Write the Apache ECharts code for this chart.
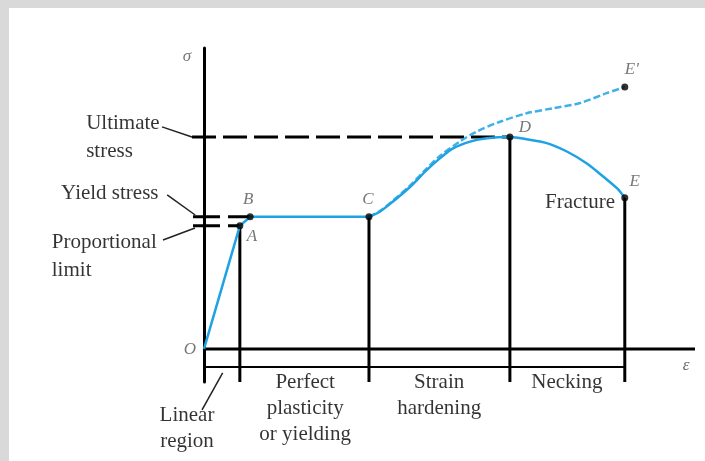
<!DOCTYPE html>
<html>
<head>
<meta charset="utf-8">
<script src="https://cdn.jsdelivr.net/npm/echarts@6/dist/echarts.min.js"></script>
<style>
  html, body { margin: 0; padding: 0; background: #d9d9d9; }
  #chart { width: 705px; height: 461px; }
</style>
</head>
<body>
<div id="chart"></div>
<script>
// elastic + yielding part: O, A, B, C
const linearStrain = [0, 7.3, 9.4, 33.6];
const linearStress = [0, 40.9, 43.9, 43.9];

// engineering curve: C -> D (ultimate) -> E (fracture)
const curveStrain = [33.6, 35.8, 38.5, 42.0, 45.4, 48.1, 50.8, 54.2, 57.6, 62.3, 65.7, 69.8, 73.9, 77.9, 81.3, 84.1, 85.7];
const curveStress = [43.9, 45.6, 49.0, 53.9, 59.5, 63.4, 66.7, 68.9, 70.0, 70.4, 69.7, 68.4, 65.6, 61.7, 57.3, 53.4, 50.2];

// true stress curve: C -> E'
const trueStrain = [33.6, 35.8, 38.5, 42.0, 45.4, 48.1, 52.1, 55.5, 60.3, 65.7, 71.1, 76.6, 82.0, 85.7];
const trueStress = [43.9, 45.8, 49.3, 54.3, 60.0, 64.2, 68.9, 72.2, 75.5, 78.3, 80.0, 81.7, 85.0, 87.0];

// named points
const pointNames = ["A", "B", "C", "D", "E", "E'"];
const pointStrain = [7.3, 9.4, 33.6, 62.3, 85.7, 85.7];
const pointStress = [40.9, 43.9, 43.9, 70.4, 50.2, 87.0];

const regionNames = ["Linear\nregion", "Perfect\nplasticity\nor yielding", "Strain\nhardening", "Necking"];

const BLUE = "#1ea2e4";
const SERIF = "'Liberation Serif', 'DejaVu Serif', serif";
const X_MIN = -40, X_MAX = 100;
const Y_MIN = -11, Y_MAX = 100;
const DIM_Y = -6;

const zip = (xs, ys) => xs.map((x, i) => [x, ys[i]]);
const pt = (name) => {
  const i = pointNames.indexOf(name);
  return [pointStrain[i], pointStress[i]];
};

function seg(data, opts) {
  return Object.assign({
    type: "line",
    data: data,
    symbol: "none",
    clip: false,
    silent: true,
    animation: false,
    lineStyle: { color: "#000", width: 3 },
    z: 3,
  }, opts);
}

const A = pt("A"), B = pt("B"), C = pt("C"), D = pt("D"), E = pt("E");

// label offsets for the point letters (px)
const letterOffset = {
  "A": [12, 11], "B": [-2, -17], "C": [-1, -17],
  "D": [15, -10], "E": [10, -16], "E'": [7, -18],
};

function textItem(value, text, opts) {
  return {
    value: value,
    label: Object.assign({
      show: true,
      formatter: text,
      position: [0, 0],
      align: "center",
      verticalAlign: "middle",
      fontFamily: SERIF,
      fontSize: 21,
      color: "#000",
    }, opts),
  };
}

const texts = [
  textItem([-3.46, 97.0], "σ", { fontStyle: "italic", fontSize: 17, color: "#555" }),
  textItem([-2.85, -0.3], "O", { fontStyle: "italic", fontSize: 17, color: "#555" }),
  textItem([98.2, -5.6], "ε", { fontStyle: "italic", fontSize: 17, color: "#444" }),
  textItem([-24.0, 70.4], "Ultimate\nstress", { align: "left", lineHeight: 28 }),
  textItem([-29.1, 51.8], "Yield stress", { align: "left" }),
  textItem([-31.0, 30.6], "Proportional\nlimit", { align: "left", lineHeight: 28 }),
  textItem([83.7, 48.5], "Fracture", { align: "right" }),
  textItem([-3.46, -26.4], regionNames[0], { lineHeight: 26 }),
  textItem([20.6, -19.9], regionNames[1], { lineHeight: 26 }),
  textItem([47.9, -15.6], regionNames[2], { lineHeight: 26 }),
  textItem([73.9, -11.3], regionNames[3], { lineHeight: 26 }),
];
pointNames.forEach((n, i) => {
  texts.push({
    value: [pointStrain[i], pointStress[i]],
    label: {
      show: true, formatter: n, position: letterOffset[n], align: "center", verticalAlign: "middle",
      fontFamily: SERIF, fontStyle: "italic", fontSize: 17, color: "#555",
    },
  });
});

const chart = echarts.init(document.getElementById("chart"), null, { renderer: "canvas" });

chart.setOption({
  backgroundColor: "#d9d9d9",
  animation: false,
  graphic: [{
    type: "rect", left: 9, top: 8, z: -10,
    shape: { width: 696, height: 453 },
    style: { fill: "#fff" },
  }],
  // x = 0 sits at 204px, y = 0 at 349px
  grid: { left: 7.6, right: 10, top: 48, bottom: 79 },
  xAxis: {
    type: "value", min: X_MIN, max: X_MAX,
    axisLine: { show: false },
    axisTick: { show: false }, axisLabel: { show: false }, splitLine: { show: false },
  },
  yAxis: {
    type: "value", min: Y_MIN, max: Y_MAX,
    axisLine: { show: true, onZero: true, lineStyle: { color: "#000", width: 3 } },
    axisTick: { show: false }, axisLabel: { show: false }, splitLine: { show: false },
  },
  series: [
    // strain axis
    seg([[0, 0], [X_MAX, 0]]),
    // reference lines to the stress axis
    seg([[-2.44, D[1]], D], { lineStyle: { color: "#000", width: 3, type: [24, 7] } }),
    seg([[-2.24, B[1]], B], { lineStyle: { color: "#000", width: 3, type: [27, 8] } }),
    seg([[-2.24, A[1]], A], { lineStyle: { color: "#000", width: 3, type: [27, 8] } }),
    // region boundaries
    seg([A, [A[0], Y_MIN]]),
    seg([C, [C[0], Y_MIN]]),
    seg([D, [D[0], Y_MIN]]),
    seg([E, [E[0], Y_MIN]]),
    // dimension line
    seg([[0, DIM_Y], [E[0], DIM_Y]], { lineStyle: { color: "#000", width: 2 } }),
    // leaders
    seg([[-8.55, 73.8], [-2.44, D[1]]], { lineStyle: { color: "#222", width: 1.5 } }),
    seg([[-7.5, 51.2], [-1.8, 44.5]], { lineStyle: { color: "#222", width: 1.5 } }),
    seg([[-8.35, 36.2], [-1.83, 40.2]], { lineStyle: { color: "#222", width: 1.5 } }),
    seg([[-0.4, -20.3], [3.8, -8.0]], { lineStyle: { color: "#222", width: 1.5 } }),
    // curves
    seg(zip(linearStrain, linearStress), { lineStyle: { color: BLUE, width: 2.5 }, z: 4 }),
    seg(zip(trueStrain, trueStress), { smooth: 0.3, lineStyle: { color: BLUE, width: 2.5, type: [7, 3], opacity: 0.85 }, z: 4 }),
    seg(zip(curveStrain, curveStress), { smooth: 0.3, lineStyle: { color: BLUE, width: 2.5 }, z: 4 }),
    {
      type: "scatter",
      data: zip(pointStrain, pointStress),
      symbol: "circle",
      symbolSize: 7,
      itemStyle: { color: "#000" },
      silent: true,
      z: 5,
    },
    {
      type: "scatter",
      data: texts,
      symbolSize: 0,
      clip: false,
      silent: true,
      z: 6,
    },
  ],
});
</script>
</body>
</html>
